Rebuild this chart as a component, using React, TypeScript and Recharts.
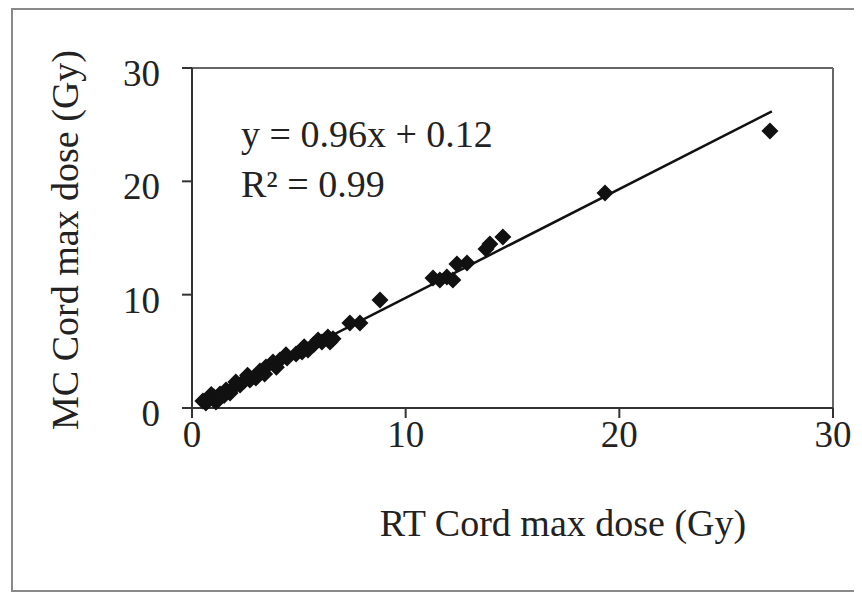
import React from 'react';
import { ScatterChart, Scatter, XAxis, YAxis, ReferenceLine, Customized } from 'recharts';

const rtDose = [27.05, 19.33, 14.55, 13.94, 13.76, 12.87, 12.4, 12.21, 11.93, 11.28, 11.6, 8.8, 7.86, 7.39, 6.46, 6.08, 6.36, 5.9, 5.43, 5.15, 4.87, 4.45, 4.12, 3.79, 3.46, 3.18, 2.99, 2.71, 2.43, 2.25, 1.92, 1.59, 1.31, 1.03, 0.75, 0.51, 1.12, 1.78, 0.9, 1.5, 2.05, 2.6, 3.4, 3.95, 4.4, 5.25, 5.7, 6.6, 0.65, 1.25];
const mcDose = [24.45, 18.98, 15.09, 14.47, 14.03, 12.8, 12.71, 11.3, 11.56, 11.47, 11.3, 9.53, 7.5, 7.5, 5.83, 5.83, 6.27, 6.0, 5.12, 4.94, 4.77, 4.41, 4.24, 4.06, 3.62, 3.27, 2.65, 2.47, 2.38, 2.03, 1.77, 1.59, 1.24, 0.97, 0.79, 0.62, 0.53, 1.32, 1.2, 1.1, 2.3, 2.9, 3.0, 3.6, 4.7, 5.4, 5.6, 6.1, 0.45, 0.8];
const axisTicks = [0, 10, 20, 30];
const slope = 0.96;
const intercept = 0.12;
const fitRange = [0.6, 27.14];

const points = rtDose.map((x, i) => ({ x, y: mcDose[i] }));
const fitSegment = fitRange.map((x) => ({ x, y: slope * x + intercept }));

const FONT = '"Liberation Serif", "Times New Roman", serif';
const TEXT_COLOR = '#222';

const Diamond = (props: any) => {
  const { cx, cy } = props;
  const r = 8.5;
  return <polygon points={`${cx},${cy - r} ${cx + r},${cy} ${cx},${cy + r} ${cx - r},${cy}`} fill="#111" />;
};

const XTick = (props: any) => {
  const { x, y, payload } = props;
  return (
    <text x={x} y={y + 27} textAnchor="middle" fontFamily={FONT} fontSize={37} fill={TEXT_COLOR}>
      {payload.value}
    </text>
  );
};

const YTick = (props: any) => {
  const { x, y, payload } = props;
  return (
    <text x={x} y={y + 18} textAnchor="end" fontFamily={FONT} fontSize={37} fill={TEXT_COLOR}>
      {payload.value}
    </text>
  );
};

const Annotations = () => (
  <g fontFamily={FONT} fill={TEXT_COLOR} fontSize={38}>
    <text x={233} y={139}>y = 0.96x + 0.12</text>
    <text x={233} y={189}>R² = 0.99</text>
    <text x={555} y={528} textAnchor="middle">RT Cord max dose (Gy)</text>
    <text x={0} y={0} textAnchor="middle" transform="translate(70,232) rotate(-90)">MC Cord max dose (Gy)</text>
  </g>
);

export default function App() {
  return (
    <div style={{ position: 'relative', width: 854, height: 584, overflow: 'hidden', background: '#fff' }}>
      <div
        style={{
          position: 'absolute',
          left: 3,
          top: 0,
          width: 900,
          height: 580,
          border: '2px solid #8a8a8a',
        }}
      />
      <div style={{ position: 'absolute', left: 0, top: 0 }}>
        <ScatterChart width={854} height={584} margin={{ top: 60, right: 29, bottom: 124, left: 64 }}>
          <XAxis
            type="number"
            dataKey="x"
            domain={[0, 30]}
            ticks={axisTicks}
            interval={0}
            height={60}
            tickSize={10}
            tick={<XTick />}
            axisLine={{ stroke: '#333', strokeWidth: 2 }}
            tickLine={{ stroke: '#333', strokeWidth: 2 }}
          />
          <YAxis
            type="number"
            dataKey="y"
            domain={[0, 30]}
            ticks={axisTicks}
            interval={0}
            width={120}
            tickSize={10}
            tickMargin={22}
            tick={<YTick />}
            axisLine={{ stroke: '#333', strokeWidth: 2 }}
            tickLine={{ stroke: '#333', strokeWidth: 2 }}
          />
          <ReferenceLine y={30} stroke="#666" strokeWidth={2} />
          <ReferenceLine x={30} stroke="#666" strokeWidth={2} />
          <Scatter data={points} shape={<Diamond />} isAnimationActive={false} />
          <Scatter data={fitSegment} line={{ stroke: '#111', strokeWidth: 2.5 }} shape={() => null} isAnimationActive={false} />
          <Customized component={Annotations} />
        </ScatterChart>
      </div>
    </div>
  );
}
